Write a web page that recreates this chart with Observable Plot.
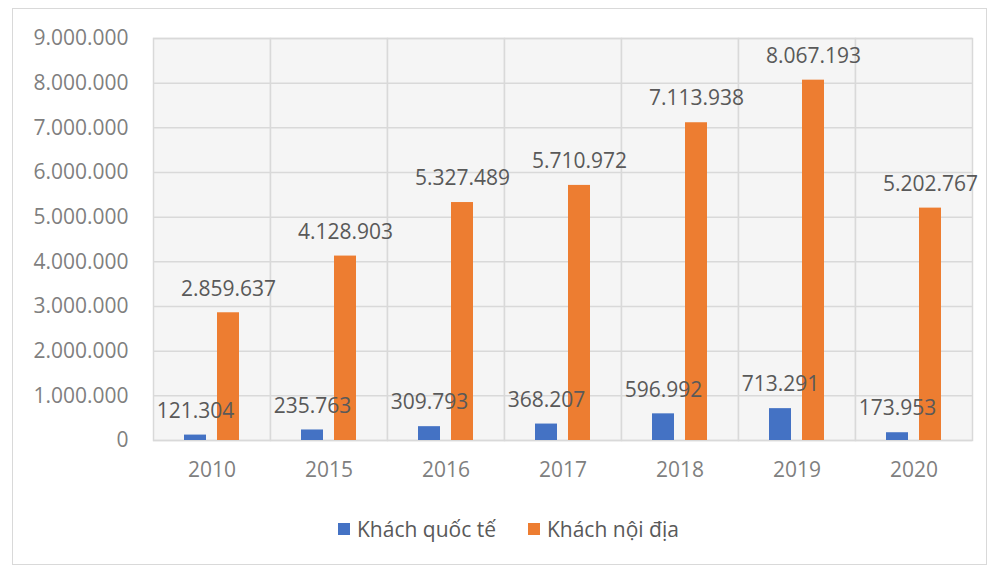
<!DOCTYPE html>
<html>
<head>
<meta charset="utf-8">
<script src="https://cdn.jsdelivr.net/npm/d3@7"></script>
<script src="https://cdn.jsdelivr.net/npm/@observablehq/plot@0.6"></script>
<style>
  body { margin: 0; background: #fff; width: 993px; height: 568px; position: relative; overflow: hidden; font-family: "Open Sans", sans-serif; }
  #frame { position: absolute; left: 12px; top: 8px; width: 975px; height: 557px; border: 1px solid #d9d9d9; box-sizing: border-box; }
  #chart { position: absolute; left: 0; top: 0; }
  #legend { position: absolute; left: 338px; top: 515px; display: flex; align-items: center; font-size: 21px; color: #595959; }
  .sw { width: 12px; height: 12px; display: inline-block; margin-right: 7px; }
  .item { display: flex; align-items: center; margin-right: 32px; }
</style>
</head>
<body>
<div id="frame"></div>
<div id="chart"></div>
<div id="legend"></div>
<script>
const years = ["2010", "2015", "2016", "2017", "2018", "2019", "2020"];
const seriesNames = ["Khách quốc tế", "Khách nội địa"];
const seriesColors = ["#4472C4", "#ED7D31"];
const intlVisitors = [121304, 235763, 309793, 368207, 596992, 713291, 173953];
const domesticVisitors = [2859637, 4128903, 5327489, 5710972, 7113938, 8067193, 5202767];
const yTicks = [0, 1000000, 2000000, 3000000, 4000000, 5000000, 6000000, 7000000, 8000000, 9000000];

const fmt = d => d3.format(",")(d).replace(/,/g, ".");

const data = [];
years.forEach((y, i) => {
  data.push({year: y, series: seriesNames[0], value: intlVisitors[i]});
  data.push({year: y, series: seriesNames[1], value: domesticVisitors[i]});
});

const chart = Plot.plot({
  width: 993,
  height: 500,
  marginTop: 38,
  marginBottom: 60,
  marginLeft: 153,
  marginRight: 21,
  style: {fontFamily: "'Open Sans', sans-serif", background: "transparent"},
  fx: {domain: years, padding: 0, label: null},
  x: {domain: seriesNames, paddingInner: 1/3, paddingOuter: 0.94, axis: null, round: false},
  y: {domain: [0, 9000000], label: null},
  color: {domain: seriesNames, range: seriesColors},
  marks: [
    Plot.frame({fill: "#f5f5f5", stroke: "#d9d9d9", strokeWidth: 1.5}),
    Plot.gridY(yTicks, {stroke: "#d9d9d9", strokeOpacity: 1, strokeWidth: 1.5}),
    Plot.barY(data, {fx: "year", x: "series", y: "value", fill: "series"}),
    Plot.text(data, {fx: "year", x: "series", y: "value", text: d => fmt(d.value), dy: -24, fontSize: 21, fill: "#595959"}),
    Plot.axisY(yTicks, {tickSize: 0, tickPadding: 25, tickFormat: fmt, fontSize: 21, fill: "#7f7f7f", label: null}),
    Plot.axisFx({anchor: "bottom", tickSize: 0, tickPadding: 22, fontSize: 21, fill: "#7f7f7f", label: null})
  ]
});
document.getElementById("chart").appendChild(chart);

const legend = document.getElementById("legend");
seriesNames.forEach((n, i) => {
  const item = document.createElement("div");
  item.className = "item";
  const sw = document.createElement("span");
  sw.className = "sw";
  sw.style.background = seriesColors[i];
  const t = document.createElement("span");
  t.textContent = n;
  item.appendChild(sw);
  item.appendChild(t);
  legend.appendChild(item);
});
</script>
</body>
</html>
